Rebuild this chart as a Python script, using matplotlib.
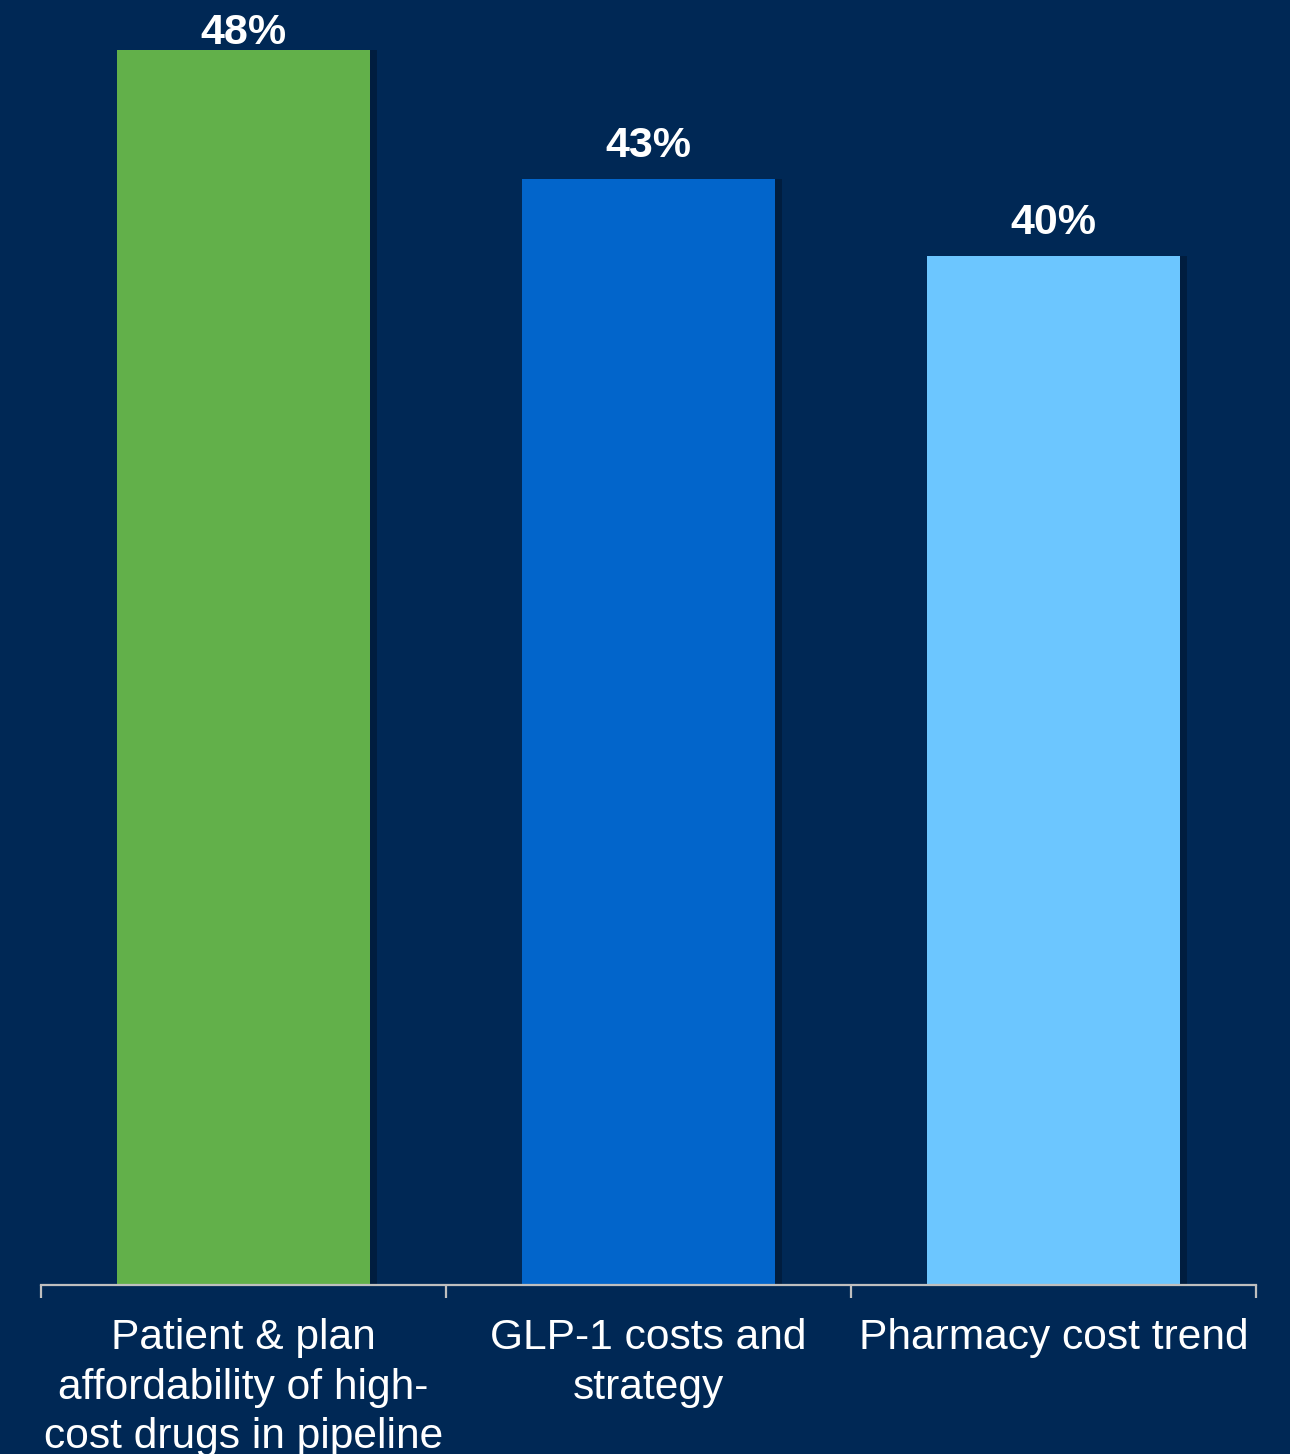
import matplotlib
matplotlib.use('Agg')
import matplotlib.pyplot as plt
import matplotlib.patheffects as pe

plt.rcParams['font.family'] = ['Liberation Sans', 'DejaVu Sans']

# 数据
categories = ['Patient & plan\naffordability of high-\ncost drugs in pipeline',
              'GLP-1 costs and\nstrategy',
              'Pharmacy cost trend']
values = [48, 43, 40]
bar_colors = ['#62B04A', '#0265CB', '#6CC6FF']

BG = '#002855'

fig = plt.figure(figsize=(12.9, 14.54), dpi=100, facecolor=BG)
ax = fig.add_axes([41/1290, 169/1454, 1215/1290, 1285/1454], facecolor=BG)

x = list(range(len(values)))
bars = ax.bar(x, values, width=0.627, color=bar_colors, zorder=2)
for b in bars:
    b.set_path_effects([pe.SimplePatchShadow(offset=(5, 0), shadow_rgbFace='black', alpha=0.25),
                        pe.Normal()])

ymax = 1285/25.73
ax.set_xlim(-0.5, 2.5)
ax.set_ylim(0, ymax)

# 数值标签，顶部放不下时往下压
for xi, v in zip(x, values):
    ax.text(xi, min(v + 0.5, ymax - 2.05), f'{v}%', ha='center', va='bottom', color='white',
            fontsize=31, fontweight='bold')

for s in ['top', 'right', 'left']:
    ax.spines[s].set_visible(False)
ax.spines['bottom'].set_color('#BFBFBF')
ax.spines['bottom'].set_linewidth(1.6)
ax.set_yticks([])

ax.set_xticks(x)
ax.set_xticklabels(categories, color='white', fontsize=30.6, linespacing=1.3)
ax.set_xticks([-0.5, 0.5, 1.5, 2.5], minor=True)
ax.tick_params(axis='x', which='major', length=0, pad=24)
ax.tick_params(axis='x', which='minor', length=9, width=1.6, color='#BFBFBF', direction='out')

fig.savefig('out.png', dpi=100, facecolor=BG)
